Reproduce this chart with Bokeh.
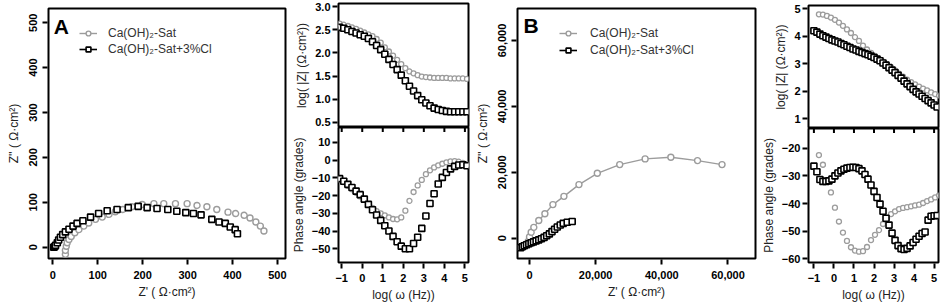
import math
from bokeh.plotting import figure
from bokeh.layouts import row, column
from bokeh.models import (Range1d, FixedTicker, Legend, LegendItem,
                          NumeralTickFormatter, Label)
from bokeh.embed import file_html
from bokeh.resources import INLINE

# ---------------- data ----------------
# Panel A, Nyquist
ZA_sat_re = [28, 28, 30, 32, 36, 41, 49, 58, 69, 80, 95, 110, 125, 139, 156, 176, 199, 225,
             247, 273, 299, 321, 343, 365, 390, 407, 426, 439, 452, 462, 470]
ZA_sat_im = [-16, -7, 2, 10, 17, 24, 32, 39, 47, 54, 62, 67, 73, 79, 84, 90, 95, 97,
             97, 97, 97, 93, 90, 84, 78, 75, 71, 65, 56, 47, 36]
ZA_cl_re = [2, 4, 6, 10, 13, 17, 22, 28, 36, 45, 54, 67, 84, 102, 121, 143, 168, 190, 210,
            232, 256, 276, 296, 313, 330, 354, 370, 384, 395, 406, 411]
ZA_cl_im = [0, 1, 4, 10, 16, 22, 28, 34, 40, 47, 53, 59, 67, 75, 81, 84, 88, 91, 88,
            86, 84, 80, 77, 75, 72, 62, 56, 53, 45, 39, 30]

# Panel A, Bode
logf_A = [-1.1, -0.9, -0.7, -0.5, -0.3, -0.1, 0.1, 0.3, 0.5, 0.7, 0.9, 1.1, 1.3, 1.5, 1.7, 1.9,
          2.1, 2.3, 2.5, 2.7, 2.9, 3.1, 3.3, 3.5, 3.7, 3.9, 4.1, 4.3, 4.5, 4.7, 4.9, 5.1]
logZ_A_sat = [2.63, 2.61, 2.58, 2.55, 2.52, 2.48, 2.44, 2.40, 2.36, 2.30, 2.22, 2.12, 2.03, 1.94,
              1.85, 1.76, 1.67, 1.60, 1.56, 1.52, 1.49, 1.48, 1.47, 1.46, 1.46, 1.46, 1.46, 1.45,
              1.45, 1.45, 1.45, 1.44]
logZ_A_cl = [2.55, 2.53, 2.50, 2.46, 2.43, 2.39, 2.36, 2.31, 2.24, 2.16, 2.07, 1.97, 1.86, 1.75,
             1.64, 1.52, 1.40, 1.28, 1.18, 1.08, 0.99, 0.92, 0.86, 0.81, 0.78, 0.76, 0.74, 0.73,
             0.73, 0.73, 0.73, 0.73]
phase_A_sat = [-11, -12.5, -14.5, -16.5, -18.5, -20.5, -22.5, -25, -27, -28.8, -30, -31.2, -32.3,
               -33.2, -33.4, -32.3, -28.5, -23, -18, -14.3, -11.2, -8, -5.8, -4.2, -3, -2.1, -1.3,
               -0.8, -0.6, -0.9, -1.6, -2.5]
phase_A_cl = [-10.5, -12, -13.7, -15.5, -17.5, -19.5, -22, -25, -28, -31, -34, -37, -40, -43, -46,
              -48.5, -50, -50, -47, -43.5, -38.5, -31.5, -24.5, -19, -13.5, -9.8, -7, -5, -3.6,
              -2.8, -2.7, -3.2]

# Panel B, Nyquist
ZB_sat_re = [-400, 0, 500, 1300, 2800, 4650, 7070, 10400, 14950, 20500, 27270, 34950, 42730,
             50800, 58200]
ZB_sat_im = [-1000, 400, 1800, 3300, 5360, 7400, 10200, 12700, 16270, 19700, 22330, 24060, 24550,
             23550, 22330]
ZB_cl_re = [-2700, -2200, -1600, -900, -200, 500, 1200, 2000, 2800, 3600, 4400, 5200, 6000, 6800,
            7600, 8400, 9300, 10200, 11400, 12900]
ZB_cl_im = [-2900, -2600, -2300, -2000, -1700, -1400, -1100, -800, -500, -150, 250, 750, 1300,
            2000, 2700, 3400, 4000, 4500, 4850, 5050]

# Panel B, Bode
logf_B_sat = [-0.75, -0.55, -0.35, -0.15, 0.05, 0.25, 0.45, 0.65, 0.85, 1.05, 1.25, 1.45, 1.65,
              1.85, 2.05, 2.25, 2.45, 2.65, 2.85, 3.05, 3.25, 3.45, 3.65, 3.85, 4.05, 4.25, 4.45,
              4.65, 4.85, 5.05, 5.25]
logZ_B_sat = [4.80, 4.79, 4.74, 4.68, 4.60, 4.50, 4.38, 4.25, 4.12, 3.97, 3.83, 3.66, 3.52, 3.40,
              3.29, 3.18, 3.08, 2.98, 2.88, 2.76, 2.64, 2.53, 2.42, 2.33, 2.25, 2.17, 2.10, 2.03,
              1.96, 1.90, 1.84]
phase_B_sat = [-22.5, -26, -32, -36, -41.5, -46.5, -50.5, -53.5, -55.8, -57, -57.4, -57.2, -55.7,
               -53.2, -51.3, -49.6, -47.4, -45.3, -43.8, -42.8, -42, -41.6, -41.3, -41, -40.7,
               -40.4, -39.8, -39.1, -38.5, -37.8, -37.1]
logf_B_cl = [-1.0, -0.85, -0.7, -0.55, -0.4, -0.25, -0.1, 0.05, 0.2, 0.35, 0.5, 0.65, 0.8, 0.95,
             1.1, 1.25, 1.4, 1.55, 1.7, 1.85, 2.0, 2.15, 2.3, 2.45, 2.6, 2.75, 2.9, 3.05, 3.2, 3.35,
             3.5, 3.65, 3.8, 3.95, 4.1, 4.25, 4.4, 4.55, 4.7, 4.85, 5.0, 5.15]
logZ_B_cl = [4.20, 4.15, 4.08, 4.02, 3.97, 3.92, 3.87, 3.83, 3.79, 3.74, 3.69, 3.64, 3.59, 3.54,
             3.50, 3.45, 3.41, 3.37, 3.33, 3.28, 3.23, 3.17, 3.11, 3.03, 2.95, 2.86, 2.77, 2.68,
             2.58, 2.48, 2.37, 2.27, 2.17, 2.07, 1.98, 1.90, 1.82, 1.74, 1.66, 1.58, 1.50, 1.43]
phase_B_cl = [-26.5, -28.5, -31.3, -32, -32, -31.8, -31.2, -30, -29, -28.2, -27.6, -27.2, -27,
              -26.9, -27, -27.4, -28.2, -29.5, -31.2, -33.3, -35.6, -37.8, -40.2, -42.8, -45.3,
              -47.8, -50.7, -53.3, -55.2, -56.3, -56.6, -56.2, -55.3, -54.1, -52.9, -51.8, -50.8,
              -50.3, -46, -44.6, -44.4, -44.3]

series_labels = ["Ca(OH)\u2082-Sat", "Ca(OH)\u2082-Sat+3%Cl"]
ticks_nyq_A = [0, 100, 200, 300, 400, 500]
ticks_nyq_B = [0, 20000, 40000, 60000]
ticks_logf = [-1, 0, 1, 2, 3, 4, 5]
ticks_logZ_A = [0.5, 1.0, 1.5, 2.0, 2.5, 3.0]
ticks_phase_A = [-50, -40, -30, -20, -10, 0, 10]
ticks_logZ_B = [1, 2, 3, 4, 5]
ticks_phase_B = [-60, -50, -40, -30, -20]

# ---------------- style ----------------
FONT = "Liberation Sans"
GRAY = "#9c9c9c"
LBL = "#222222"
NAN = float("nan")


def new_fig(w, h, xr, yr, left, right, top, bottom, xaxis=True):
    p = figure(width=w, height=h, x_range=Range1d(*xr), y_range=Range1d(*yr),
               output_backend="svg", toolbar_location=None,
               x_axis_location="below" if xaxis else None,
               min_border_left=left, min_border_right=right,
               min_border_top=top, min_border_bottom=bottom)
    p.outline_line_color = "black"
    p.outline_line_width = 2
    p.outline_line_alpha = 1
    p.grid.visible = False
    p.background_fill_color = "white"
    p.border_fill_color = "white"
    return p


def style_axis(ax, ticks, label, standoff, label_standoff, fmt=None, vertical=False):
    ax.ticker = FixedTicker(ticks=ticks)
    ax.axis_line_color = None
    ax.major_tick_line_color = "black"
    ax.major_tick_line_width = 2
    ax.major_tick_out = 6
    ax.major_tick_in = -1
    ax.minor_tick_line_color = None
    ax.major_label_text_font = FONT
    ax.major_label_text_font_style = "bold"
    ax.major_label_text_font_size = "11px"
    ax.major_label_text_color = "black"
    ax.major_label_standoff = standoff
    if vertical:
        ax.major_label_orientation = "vertical"
    if fmt:
        ax.formatter = NumeralTickFormatter(format=fmt)
    ax.axis_label = label
    ax.axis_label_text_font = FONT
    ax.axis_label_text_font_style = "normal"
    ax.axis_label_text_font_size = "12px"
    ax.axis_label_text_color = LBL
    ax.axis_label_standoff = label_standoff


def divider_ticks(p, ticks):
    # short inward tick marks on the shared edge between the two Bode panels
    p.scatter(ticks, [p.y_range.end] * len(ticks), marker="dash", angle=math.pi / 2,
              size=9, line_color="black", line_width=2)


def add_legend(p, loc, gap, standoff, items):
    leg = Legend(items=items, location=loc, orientation="vertical",
                 background_fill_alpha=0, border_line_color=None,
                 glyph_width=18, glyph_height=12, label_height=12, spacing=gap,
                 padding=0, margin=0, label_standoff=standoff,
                 label_text_font=FONT, label_text_font_size="12px",
                 label_text_color="#333333")
    p.add_layout(leg)


def panel_letter(p, x, y, txt):
    p.add_layout(Label(x=x, y=y, text=txt, text_font=FONT, text_font_style="bold",
                       text_font_size="21px", text_color="black", text_baseline="top",
                       text_align="left"))


XLAB_NYQ = "Z' ( \u03a9\u00b7cm\u00b2)"
YLAB_NYQ = "Z'' ( \u03a9\u00b7cm\u00b2)"
YLAB_MOD = "log( |Z| (\u03a9\u00b7cm\u00b2))"
YLAB_PH = "Phase angle (grades)"
XLAB_F = "log( \u03c9 (Hz))"

# ---------------- Panel A Nyquist ----------------
pA = new_fig(288, 306, (-9.6, 518), (-25.2, 531.6), 48, 3, 8, 48)
style_axis(pA.xaxis[0], ticks_nyq_A, XLAB_NYQ, 6, 3)
style_axis(pA.yaxis[0], ticks_nyq_A, YLAB_NYQ, 5, 6, vertical=True)
s1 = pA.scatter(ZA_sat_re, ZA_sat_im, marker="circle", size=6, fill_color="white",
                line_color=GRAY, line_width=1.4)
s2 = pA.scatter(ZA_cl_re, ZA_cl_im, marker="square", size=6, fill_color="white",
                line_color="black", line_width=1.6)
l1 = pA.line(x=[NAN], y=[NAN], line_color=GRAY, line_width=1.4)
l2 = pA.line(x=[NAN], y=[NAN], line_color="black", line_width=1.6)
add_legend(pA, (31, 202), 2, 11, [LegendItem(label=series_labels[0], renderers=[l1, s1]),
                                  LegendItem(label=series_labels[1], renderers=[l2, s2])])
panel_letter(pA, 2, 518, "A")

# ---------------- Panel A Bode ----------------
pAm = new_fig(184, 127, (-1.156, 5.175), (0.392, 3.065), 46, 4, 3, 0, xaxis=False)
style_axis(pAm.yaxis[0], ticks_logZ_A, YLAB_MOD, 2, 3, fmt="0.0")
pAm.scatter(logf_A, logZ_A_sat, marker="circle", size=5, fill_color="white",
            line_color=GRAY, line_width=1.3)
pAm.scatter(logf_A, logZ_A_cl, marker="square", size=6, fill_color="white",
            line_color="black", line_width=1.6)

pAp = new_fig(184, 179, (-1.156, 5.175), (-57.7, 18.3), 46, 4, 0, 44)
style_axis(pAp.xaxis[0], ticks_logf, XLAB_F, 5, 3)
style_axis(pAp.yaxis[0], ticks_phase_A, YLAB_PH, 2, 3)
divider_ticks(pAp, ticks_logf)
pAp.scatter(logf_A, phase_A_sat, marker="circle", size=5, fill_color="white",
            line_color=GRAY, line_width=1.3)
pAp.scatter(logf_A, phase_A_cl, marker="square", size=6, fill_color="white",
            line_color="black", line_width=1.6)

# ---------------- Panel B Nyquist ----------------
pB = new_fig(286, 306, (-3630, 68320), (-6160, 69710), 45, 3, 8, 48)
style_axis(pB.xaxis[0], ticks_nyq_B, XLAB_NYQ, 6, 3, fmt="0,0")
style_axis(pB.yaxis[0], ticks_nyq_B, YLAB_NYQ, 5, 6, fmt="0,0", vertical=True)
lb1 = pB.line(ZB_sat_re, ZB_sat_im, line_color=GRAY, line_width=1.4)
sb1 = pB.scatter(ZB_sat_re, ZB_sat_im, marker="circle", size=6, fill_color="white",
                 line_color=GRAY, line_width=1.4)
lb2 = pB.line(ZB_cl_re, ZB_cl_im, line_color="black", line_width=1.6)
sb2 = pB.scatter(ZB_cl_re, ZB_cl_im, marker="square", size=6, fill_color="white",
                 line_color="black", line_width=1.6)
add_legend(pB, (42, 201), 3, 13, [LegendItem(label=series_labels[0], renderers=[lb1, sb1]),
                                  LegendItem(label=series_labels[1], renderers=[lb2, sb2])])
panel_letter(pB, -1800, 67900, "B")

# ---------------- Panel B Bode ----------------
pBm = new_fig(182, 128, (-1.27, 5.22), (0.647, 5.12), 44, 2, 5, 0, xaxis=False)
style_axis(pBm.yaxis[0], ticks_logZ_B, YLAB_MOD, 2, 3)
pBm.scatter(logf_B_sat, logZ_B_sat, marker="circle", size=5, fill_color="white",
            line_color=GRAY, line_width=1.3)
pBm.scatter(logf_B_cl, logZ_B_cl, marker="square", size=6, fill_color="white",
            line_color="black", line_width=1.6)

pBp = new_fig(182, 178, (-1.27, 5.22), (-61.3, -12.9), 44, 2, 0, 44)
style_axis(pBp.xaxis[0], ticks_logf, XLAB_F, 5, 3)
style_axis(pBp.yaxis[0], ticks_phase_B, YLAB_PH, 2, 3)
divider_ticks(pBp, ticks_logf)
pBp.scatter(logf_B_sat, phase_B_sat, marker="circle", size=5, fill_color="white",
            line_color=GRAY, line_width=1.3)
pBp.scatter(logf_B_cl, phase_B_cl, marker="square", size=6, fill_color="white",
            line_color="black", line_width=1.6)

layout = row(pA, column(pAm, pAp, spacing=0), pB, column(pBm, pBp, spacing=0), spacing=0)

open("out.html", "w").write(file_html(layout, INLINE))
